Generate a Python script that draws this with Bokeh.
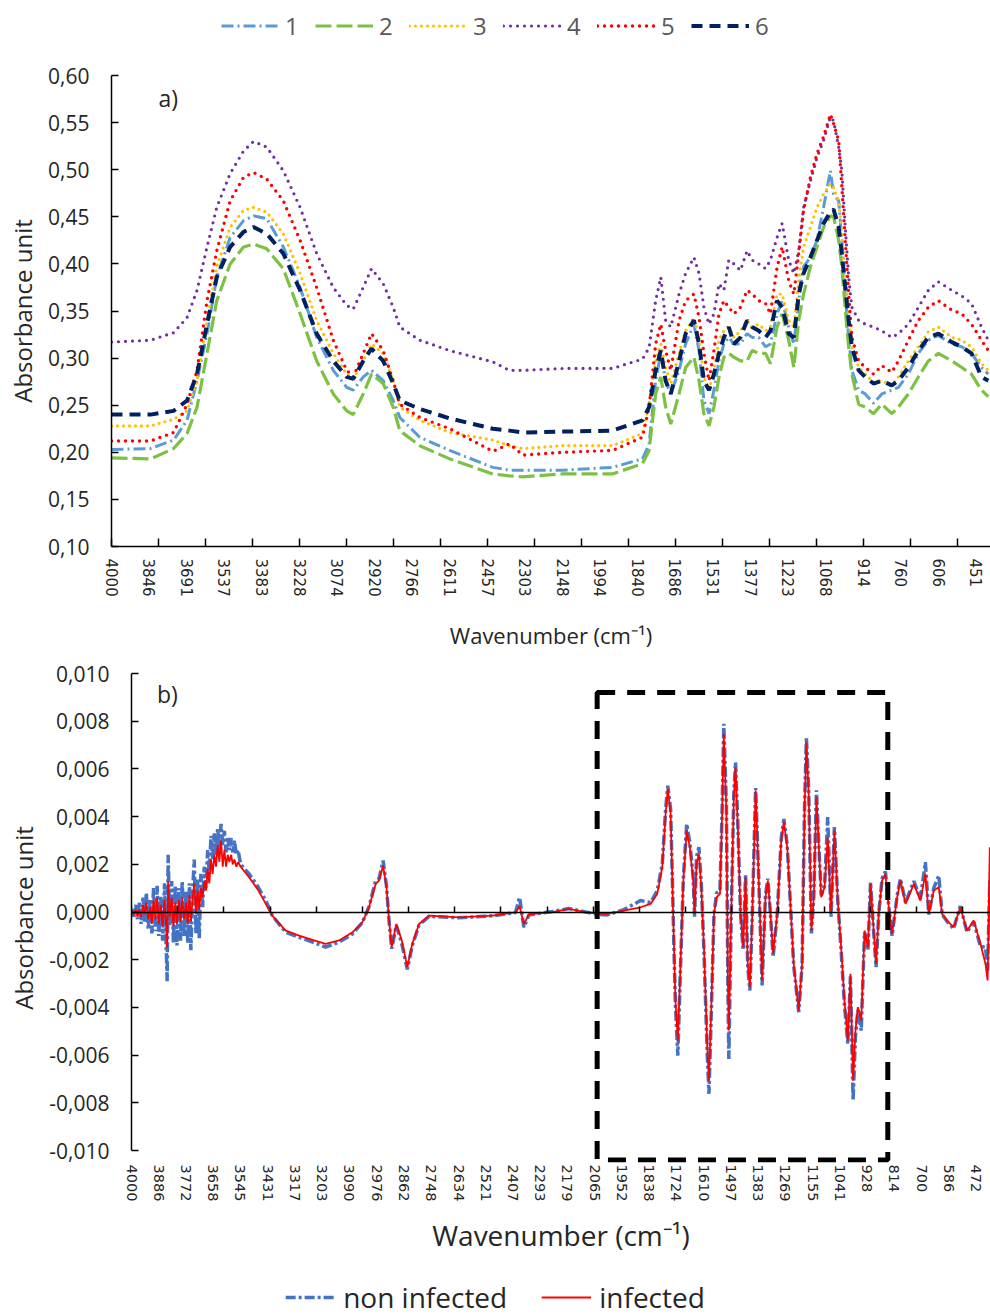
from bokeh.plotting import figure
from bokeh.models import (Range1d, FixedTicker, CustomJSTickFormatter, Legend, LegendItem,
                          LinearAxis, Label, BoxAnnotation)
from bokeh.embed import file_html
from bokeh.resources import INLINE

FONT = "Open Sans"
TICKFONT = "DejaVu Sans"
TXT = "#262626"

# ---------------- panel a data ----------------
wn_a = [4000, 3840, 3745, 3690, 3649, 3608, 3568, 3513, 3458, 3417, 3363, 3295, 3226, 3158, 3090,
        3035, 3008, 2967, 2933, 2885, 2844, 2817, 2735, 2612, 2435, 2367, 2312, 2149, 1944,
        1821, 1794, 1767, 1746, 1726, 1705, 1671, 1644, 1610, 1589, 1569, 1548, 1528, 1507,
        1487, 1467, 1446, 1419, 1392, 1371, 1344, 1316, 1296, 1269, 1248, 1221, 1200, 1180,
        1160, 1132, 1105, 1078, 1050, 1037, 1016, 1003, 989, 975, 962, 934, 907, 873, 839,
        798, 771, 730, 689, 648, 607, 552, 511, 471, 430, 402]

s1 = [0.203, 0.204, 0.213, 0.234, 0.276, 0.326, 0.386, 0.428, 0.446, 0.451, 0.448, 0.418, 0.375,
      0.322, 0.287, 0.269, 0.266, 0.280, 0.287, 0.276, 0.255, 0.237, 0.216, 0.202, 0.184,
      0.181, 0.181, 0.181, 0.184,
      0.193, 0.209, 0.276, 0.305, 0.276, 0.262, 0.287, 0.315, 0.336, 0.308, 0.255, 0.241, 0.266,
      0.297, 0.315, 0.322, 0.315, 0.315, 0.326, 0.322, 0.322, 0.312, 0.315, 0.347, 0.361, 0.333,
      0.315, 0.361, 0.397, 0.407, 0.425, 0.460, 0.499, 0.474, 0.467, 0.425, 0.368, 0.322, 0.287,
      0.266, 0.262, 0.252, 0.262, 0.266, 0.269, 0.283, 0.305, 0.319, 0.324, 0.315, 0.312, 0.305,
      0.290, 0.283]
s2 = [0.194, 0.193, 0.204, 0.220, 0.248, 0.305, 0.361, 0.400, 0.418, 0.421, 0.416, 0.395, 0.347,
      0.297, 0.262, 0.244, 0.240, 0.262, 0.283, 0.273, 0.248, 0.223, 0.207, 0.193, 0.177,
      0.175, 0.174, 0.177, 0.177,
      0.188, 0.202, 0.262, 0.280, 0.248, 0.230, 0.262, 0.290, 0.301, 0.276, 0.241, 0.228, 0.248,
      0.280, 0.301, 0.305, 0.301, 0.297, 0.297, 0.308, 0.305, 0.305, 0.294, 0.333, 0.347, 0.319,
      0.290, 0.340, 0.368, 0.397, 0.418, 0.439, 0.451, 0.450, 0.425, 0.397, 0.351, 0.312, 0.283,
      0.251, 0.248, 0.241, 0.251, 0.241, 0.248, 0.262, 0.280, 0.297, 0.305, 0.297, 0.290, 0.283,
      0.266, 0.259]
s3 = [0.228, 0.228, 0.235, 0.244, 0.276, 0.340, 0.397, 0.439, 0.457, 0.460, 0.455, 0.432, 0.390,
      0.340, 0.305, 0.283, 0.278, 0.297, 0.315, 0.305, 0.276, 0.248, 0.234, 0.221, 0.213,
      0.207, 0.204, 0.207, 0.207,
      0.220, 0.251, 0.297, 0.315, 0.290, 0.273, 0.305, 0.329, 0.343, 0.322, 0.280, 0.266, 0.287,
      0.319, 0.329, 0.333, 0.322, 0.329, 0.340, 0.333, 0.336, 0.329, 0.333, 0.368, 0.368, 0.340,
      0.333, 0.382, 0.418, 0.439, 0.460, 0.474, 0.485, 0.481, 0.467, 0.432, 0.390, 0.347, 0.312,
      0.290, 0.283, 0.274, 0.276, 0.271, 0.280, 0.297, 0.312, 0.328, 0.333, 0.322, 0.319, 0.312,
      0.294, 0.287]
s4 = [0.317, 0.319, 0.327, 0.343, 0.372, 0.418, 0.460, 0.496, 0.520, 0.530, 0.524, 0.499, 0.460,
      0.411, 0.375, 0.356, 0.352, 0.375, 0.395, 0.379, 0.354, 0.333, 0.319, 0.308, 0.296,
      0.287, 0.287, 0.289, 0.289,
      0.299, 0.311, 0.361, 0.386, 0.340, 0.333, 0.368, 0.390, 0.407, 0.390, 0.354, 0.336, 0.347,
      0.379, 0.372, 0.404, 0.400, 0.393, 0.414, 0.404, 0.400, 0.395, 0.404, 0.428, 0.443, 0.404,
      0.390, 0.414, 0.460, 0.488, 0.513, 0.531, 0.556, 0.552, 0.524, 0.499, 0.439, 0.386, 0.354,
      0.340, 0.336, 0.333, 0.329, 0.322, 0.326, 0.336, 0.354, 0.372, 0.381, 0.372, 0.366, 0.358,
      0.333, 0.319]
s5 = [0.212, 0.212, 0.221, 0.251, 0.287, 0.361, 0.414, 0.467, 0.492, 0.497, 0.490, 0.467, 0.425,
      0.375, 0.319, 0.287, 0.280, 0.305, 0.326, 0.308, 0.276, 0.251, 0.237, 0.225, 0.201,
      0.209, 0.197, 0.200, 0.202,
      0.216, 0.248, 0.315, 0.336, 0.308, 0.287, 0.340, 0.361, 0.368, 0.343, 0.305, 0.276, 0.308,
      0.347, 0.361, 0.354, 0.347, 0.354, 0.372, 0.368, 0.361, 0.358, 0.347, 0.396, 0.418, 0.382,
      0.368, 0.411, 0.457, 0.492, 0.517, 0.535, 0.559, 0.549, 0.531, 0.482, 0.425, 0.368, 0.322,
      0.297, 0.290, 0.283, 0.292, 0.285, 0.297, 0.319, 0.340, 0.354, 0.361, 0.351, 0.347, 0.336,
      0.319, 0.308]
s6 = [0.240, 0.240, 0.244, 0.255, 0.283, 0.336, 0.386, 0.418, 0.434, 0.439, 0.432, 0.411, 0.372,
      0.326, 0.297, 0.280, 0.278, 0.297, 0.310, 0.297, 0.273, 0.255, 0.246, 0.236, 0.225,
      0.223, 0.221, 0.222, 0.223,
      0.234, 0.248, 0.287, 0.308, 0.276, 0.262, 0.297, 0.326, 0.340, 0.315, 0.276, 0.266, 0.283,
      0.305, 0.322, 0.333, 0.315, 0.322, 0.340, 0.333, 0.329, 0.322, 0.329, 0.361, 0.354, 0.326,
      0.322, 0.368, 0.390, 0.407, 0.425, 0.443, 0.455, 0.458, 0.439, 0.411, 0.375, 0.340, 0.312,
      0.287, 0.280, 0.273, 0.276, 0.271, 0.276, 0.290, 0.308, 0.322, 0.326, 0.317, 0.312, 0.305,
      0.280, 0.276]

series_names = ["1", "2", "3", "4", "5", "6"]

# ---------------- panel b data ----------------
wn_b = [4000, 3990, 3982, 3975, 3968, 3960, 3952, 3945, 3938, 3930, 3922, 3915, 3908, 3900, 3893,
        3886, 3878, 3870, 3862, 3855, 3851, 3847, 3840, 3832, 3825, 3817, 3810, 3802, 3795, 3788,
        3780, 3772, 3765, 3758, 3752, 3745, 3738, 3731, 3724, 3717, 3710, 3703, 3696, 3689, 3682,
        3675, 3668, 3661, 3654, 3647, 3640, 3633, 3626, 3619, 3612, 3605, 3598, 3591, 3584, 3577,
        3570, 3562, 3555, 3544, 3509,
        3474, 3439, 3412,
        3356, 3300, 3244, 3189, 3133, 3077, 3036, 3008, 2980, 2966, 2949, 2935, 2924, 2913, 2894,
        2871, 2848, 2827, 2799, 2757, 2632, 2493, 2396, 2379, 2361, 2340, 2242, 2173, 2103, 2048,
        2013, 1943, 1874, 1832, 1804, 1783, 1769, 1760, 1748, 1741, 1734, 1728, 1718, 1709, 1695,
        1681, 1668, 1654, 1648, 1640, 1630, 1620, 1609, 1595, 1588, 1579, 1567, 1556, 1542, 1533,
        1526, 1515, 1509, 1505, 1495, 1484, 1477, 1467, 1456, 1445, 1435, 1426, 1417, 1407, 1393,
        1380, 1366, 1352, 1342, 1331, 1320, 1303, 1286, 1275, 1261, 1247, 1234, 1213, 1199, 1189,
        1181, 1171, 1160, 1150, 1139, 1129, 1119, 1105, 1092, 1078, 1064, 1050, 1036, 1022, 1008,
        997, 986, 976, 966, 952, 938, 924, 913, 900, 890, 879, 865, 851, 837, 823, 802, 788, 767,
        732, 705, 684, 670, 649, 628, 614, 593, 566, 538, 510, 482, 454, 433, 424, 415, 410]

non_infected = [0.0001, -0.0002, 0.0003, -0.0003, 0.0004, -0.0005, 0.0006, -0.0004, 0.0008, -0.0007,
                0.0005, -0.0009, 0.0010, -0.0008, 0.0011, -0.0010, 0.0007, -0.0012, 0.0012, -0.0015,
                -0.0029, 0.0024, -0.0006, 0.0013, -0.0013, 0.0011, -0.0014, 0.0010, -0.0012, 0.0013,
                -0.0010, 0.0009, -0.0013, 0.0012, -0.0016, 0.0008, 0.0022, -0.0009, 0.0014, -0.0011,
                0.0016, 0.0002, 0.0019, 0.0010, 0.0026, 0.0016, 0.0032, 0.0022, 0.0033, 0.0024,
                0.0035, 0.0026, 0.0037, 0.0028, 0.0034, 0.0025, 0.0031, 0.0026, 0.0031, 0.0025,
                0.0030, 0.0024, 0.0026, 0.0020, 0.0016,
                0.0011, 0.00048, -0.00015, -0.00085, -0.00106, -0.00126, -0.00147, -0.00126, -0.00092,
                -0.00045, 0.00022, 0.00132, 0.0014, 0.00216, 0.0011, -0.0004, -0.00154, -0.00055,
                -0.00133, -0.0024, -0.0014, -0.00055, -0.00018, -0.00024, -0.00016, -0.00002, 0.00062,
                -0.00064, -0.00012, 0.00002, 0.00015, 0.0, -0.0001, -0.00012, 0.0001, 0.00048, 0.0004,
                0.0009, 0.002, 0.0043, 0.0053, 0.0043, 0.0014, -0.0016, -0.0039, -0.00602, -0.003,
                0.0014, 0.0037, 0.0029, 0.0015, -0.0002, 0.0023, 0.00272, 0.0012, -0.0016, -0.006,
                -0.00762, -0.0045, -0.0001, 0.0008, 0.0009, 0.0043, 0.00789, 0.0044, -0.003, -0.00616,
                -0.0001, 0.005, 0.00628, 0.0036, -0.0001, -0.0016, 0.0016, -0.0023, -0.00329, -0.0001,
                0.0052, 0.0014, -0.00308, 0.0007, 0.0014, -0.0001, -0.00189, -0.0001, 0.0031, 0.0039,
                0.0028, 0.0002, -0.00225, -0.0042, -0.00225, 0.0043, 0.00733, 0.005, -0.0009, 0.0007,
                0.0051, 0.0028, 0.0007, 0.0011, 0.00398, -0.0002, 0.00356, 0.0005, -0.0016, -0.0039,
                -0.00553, -0.0027, -0.0079, -0.0052, -0.0041, -0.00497, -0.00085, -0.0016, 0.00125,
                -0.00085, -0.00231, -0.0001, 0.0014, 0.0017, 0.00025, -0.001, 0.0007, 0.0014, 0.0004,
                0.0013, 0.00055, 0.00209, -0.0001, 0.001, 0.00153, -0.0001, -0.0004, -0.0007, 0.00025,
                -0.00085, -0.0004, -0.00145, -0.00147, -0.00245, 0.00132, -0.0012]
infected = [0.0, -0.0001, 0.0001, -0.0002, 0.0001, -0.0002, 0.0003, -0.0001, 0.0004, -0.0003,
            0.0002, -0.0005, 0.0005, -0.0003, 0.0006, -0.0005, 0.0003, -0.0006, 0.0005, -0.0007,
            -0.0015, 0.0013, -0.0002, 0.0006, -0.0006, 0.0004, -0.0005, 0.0005, -0.0004, 0.0006,
            -0.0003, 0.0004, -0.0005, 0.0007, -0.0004, 0.0005, 0.0012, 0.0, 0.0009, 0.0001,
            0.0010, 0.0006, 0.0013, 0.0009, 0.0018, 0.0012, 0.0022, 0.0016, 0.0024, 0.0019,
            0.0028, 0.0021, 0.0030, 0.0019, 0.0026, 0.0019, 0.0024, 0.0021, 0.0024, 0.0020,
            0.0022, 0.0019, 0.0021, 0.0019, 0.00146,
            0.00097, 0.00034, -0.00015, -0.00078, -0.00099, -0.00117, -0.00133, -0.00119, -0.00085,
            -0.00043, 0.0002, 0.00118, 0.00132, 0.00195, 0.00104, -0.00036, -0.00147, -0.0005,
            -0.00119, -0.00231, -0.00133, -0.0005, -0.00015, -0.00022, -0.00015, -0.00001, 0.00023,
            -0.0005, -0.0001, 0.0, 0.00013, 0.0, -0.00008, -0.00008, 0.00006, 0.0002, 0.00034,
            0.00076, 0.00188, 0.00412, 0.00517, 0.00412, 0.00132, -0.00147, -0.00371, -0.00539,
            -0.00287, 0.00132, 0.00342, 0.00272, 0.00132, -0.00008, 0.00202, 0.00244, 0.00104,
            -0.00147, -0.00567, -0.00707, -0.00427, -0.00008, 0.00062, 0.00076, 0.00412, 0.00747,
            0.00412, -0.00287, -0.00497, -0.00008, 0.00482, 0.00607, 0.00342, -0.00008, -0.00147,
            0.00146, -0.00217, -0.00315, -0.00008, 0.0051, 0.00132, -0.00287, 0.00062, 0.00132,
            -0.00008, -0.00175, -0.00008, 0.003, 0.00377, 0.00272, 0.0002, -0.00217, -0.00413,
            -0.00217, 0.00412, 0.00712, 0.00482, -0.00078, 0.00062, 0.00482, 0.00272, 0.00062,
            0.00104, 0.00314, -0.00008, 0.00342, 0.00048, -0.00147, -0.00371, -0.00539, -0.00259,
            -0.00707, -0.00497, -0.00399, -0.00455, -0.00078, -0.00147, 0.00118, -0.00078,
            -0.00217, -0.00008, 0.00132, 0.0016, 0.0002, -0.00092, 0.00062, 0.00132, 0.00034,
            0.00118, 0.00048, 0.0016, -0.00008, 0.0009, 0.00104, -0.00008, -0.00036, -0.00064,
            0.0002, -0.00078, -0.00036, -0.00133, -0.00217, -0.00287, 0.00272, -0.001]

# ---------------- axis labels / ticks ----------------
xlabels_a = [4000, 3846, 3691, 3537, 3383, 3228, 3074, 2920, 2766, 2611, 2457, 2303, 2148, 1994,
             1840, 1686, 1531, 1377, 1223, 1068, 914, 760, 606, 451]
xlabels_b = [4000, 3886, 3772, 3658, 3545, 3431, 3317, 3203, 3090, 2976, 2862, 2748, 2634, 2521,
             2407, 2293, 2179, 2065, 1952, 1838, 1724, 1610, 1497, 1383, 1269, 1155, 1041, 928,
             814, 700, 586, 472]
xtick_marks = [4000, 3807, 3614, 3421, 3228, 3036, 2843, 2650, 2457, 2264, 2071, 1878, 1685, 1492,
               1299, 1107, 914, 721, 528]
yticks_a = [0.10, 0.15, 0.20, 0.25, 0.30, 0.35, 0.40, 0.45, 0.50, 0.55, 0.60]
yticks_b = [-0.010, -0.008, -0.006, -0.004, -0.002, 0.0, 0.002, 0.004, 0.006, 0.008, 0.010]

styles_a = [
    ("#5B9BD5", "12 4 2 4", 3.0, "butt"),
    ("#7CC142", "16 5", 3.2, "butt"),
    ("#FFC000", "0 6", 3.2, "round"),
    ("#7030A0", "0 7", 3.2, "round"),
    ("#FF0000", "0 7", 3.4, "round"),
    ("#002060", "11 7", 4.0, "butt"),
]
style_noninf = ("#4472C4", "10 3 3 3", 3.5)
style_inf = ("#FF0000", 1.8)
series_a = [s1, s2, s3, s4, s5, s6]


def legend_figure(h):
    # a strip that only carries a legend; its (0..1) ranges keep the series off-screen
    f = figure(width=990, height=h, x_range=Range1d(0, 1), y_range=Range1d(0, 1),
               output_backend="svg", toolbar_location=None, x_axis_type=None, y_axis_type=None,
               min_border=0)
    f.outline_line_color = None
    return f


# ================= legend a =================
lfa = legend_figure(50)
items_a = []
for name, vals, (col, dash, lw, cap) in zip(series_names, series_a, styles_a):
    r = lfa.line(wn_a, vals, line_color=col, line_dash=dash, line_width=lw, line_cap=cap)
    items_a.append(LegendItem(label=name, renderers=[r]))
lfa.add_layout(Legend(items=items_a, orientation="horizontal", location="center",
                      glyph_width=58, glyph_height=20, label_standoff=6, label_width=14,
                      spacing=16, padding=0, margin=0, border_line_color=None,
                      background_fill_alpha=0, label_text_font=FONT,
                      label_text_font_size="24px", label_text_color="#595959"))

# ================= panel a =================
pa = figure(width=990, height=608, x_range=Range1d(4000, 393), y_range=Range1d(0.10, 0.60),
            output_backend="svg", toolbar_location=None, min_border_left=111,
            min_border_right=0, min_border_top=25, min_border_bottom=112)
pa.outline_line_color = None
pa.grid.visible = False

xa = pa.xaxis[0]
xa.ticker = FixedTicker(ticks=xlabels_a, minor_ticks=xtick_marks)
xa.formatter = CustomJSTickFormatter(code="return tick.toFixed(0)")
xa.major_tick_in = 0
xa.major_tick_out = 0
xa.minor_tick_in = 8
xa.minor_tick_out = 0
xa.minor_tick_line_color = "black"
xa.minor_tick_line_width = 1.5
xa.axis_line_color = "black"
xa.axis_line_width = 1.5
xa.major_label_orientation = "vertical"
xa.major_label_text_font = TICKFONT
xa.major_label_text_font_size = "15px"
xa.major_label_text_color = TXT
xa.major_label_standoff = 12
xa.axis_label = "Wavenumber (cm⁻¹)"
xa.axis_label_text_font = FONT
xa.axis_label_text_font_size = "22px"
xa.axis_label_text_font_style = "normal"
xa.axis_label_text_color = TXT
xa.axis_label_standoff = 20

ya = pa.yaxis[0]
ya.ticker = FixedTicker(ticks=yticks_a)
ya.formatter = CustomJSTickFormatter(code="return tick.toFixed(2).replace('.', ',')")
ya.major_tick_in = 7
ya.major_tick_out = 0
ya.major_tick_line_width = 1.5
ya.minor_tick_line_color = None
ya.axis_line_width = 1.5
ya.major_label_text_font = FONT
ya.major_label_text_font_size = "21px"
ya.major_label_text_color = TXT
ya.major_label_standoff = 22
ya.axis_label = "Absorbance unit"
ya.axis_label_text_font = FONT
ya.axis_label_text_font_size = "24px"
ya.axis_label_text_font_style = "normal"
ya.axis_label_text_color = TXT
ya.axis_label_standoff = 6

for vals, (col, dash, lw, cap) in zip(series_a, styles_a):
    pa.line(wn_a, vals, line_color=col, line_dash=dash, line_width=lw, line_cap=cap)

pa.add_layout(Label(x=3807, y=0.5756, text="a)", text_font=FONT, text_font_size="23px",
                    text_baseline="middle", text_color=TXT))

# ================= panel b =================
pb = figure(width=990, height=620, x_range=Range1d(4000, 412), y_range=Range1d(-0.0105, 0.010),
            output_backend="svg", toolbar_location=None, min_border_left=131,
            min_border_right=0, min_border_top=15, min_border_bottom=116)
pb.outline_line_color = None
pb.grid.visible = False

xb = pb.xaxis[0]
xb.ticker = FixedTicker(ticks=xlabels_b)
xb.formatter = CustomJSTickFormatter(code="return tick.toFixed(0)")
xb.major_tick_in = 0
xb.major_tick_out = 0
xb.minor_tick_line_color = None
xb.axis_line_color = None
xb.major_label_orientation = "vertical"
xb.major_label_text_font = TICKFONT
xb.major_label_text_font_size = "14.5px"
xb.major_label_text_color = TXT
xb.major_label_standoff = 2
xb.axis_label = "Wavenumber (cm⁻¹)"
xb.axis_label_text_font = FONT
xb.axis_label_text_font_size = "28px"
xb.axis_label_text_font_style = "normal"
xb.axis_label_text_color = TXT
xb.axis_label_standoff = 12

zero_axis = LinearAxis(fixed_location=0, ticker=FixedTicker(ticks=xtick_marks),
                       major_tick_in=6, major_tick_out=0, major_tick_line_width=1.5,
                       minor_tick_line_color=None, axis_line_color="black", axis_line_width=1.5,
                       major_label_text_color=None, major_label_text_font_size="1px")
pb.add_layout(zero_axis, "below")

yb = pb.yaxis[0]
yb.ticker = FixedTicker(ticks=yticks_b)
yb.formatter = CustomJSTickFormatter(code="return tick.toFixed(3).replace('.', ',')")
yb.bounds = (-0.010, 0.010)
yb.major_tick_in = 7
yb.major_tick_out = 0
yb.major_tick_line_width = 1.5
yb.minor_tick_line_color = None
yb.axis_line_width = 1.5
yb.major_label_text_font = FONT
yb.major_label_text_font_size = "21px"
yb.major_label_text_color = TXT
yb.major_label_standoff = 22
yb.axis_label = "Absorbance unit"
yb.axis_label_text_font = FONT
yb.axis_label_text_font_size = "24px"
yb.axis_label_text_font_style = "normal"
yb.axis_label_text_color = TXT
yb.axis_label_standoff = 6

pb.line(wn_b, non_infected, line_color=style_noninf[0], line_dash=style_noninf[1],
        line_width=style_noninf[2])
pb.line(wn_b, infected, line_color=style_inf[0], line_width=style_inf[1])

pb.add_layout(BoxAnnotation(left=2055, right=841, top=0.0092, bottom=-0.0104,
                            fill_color=None, fill_alpha=0, line_color="black", line_alpha=1.0,
                            line_width=5, line_dash="18 12"))
pb.add_layout(Label(x=3894, y=0.00916, text="b)", text_font=FONT, text_font_size="23px",
                    text_baseline="middle", text_color=TXT))

# ================= legend b =================
lfb = legend_figure(38)
rl1 = lfb.line(wn_b, non_infected, line_color=style_noninf[0], line_dash=style_noninf[1],
               line_width=style_noninf[2])
rl2 = lfb.line(wn_b, infected, line_color=style_inf[0], line_width=style_inf[1])
lfb.add_layout(Legend(items=[LegendItem(label="non infected", renderers=[rl1]),
                             LegendItem(label="infected", renderers=[rl2])],
                      orientation="horizontal", location="center", glyph_width=50,
                      glyph_height=20, label_standoff=8, spacing=34, padding=0, margin=0,
                      border_line_color=None, background_fill_alpha=0, label_text_font=FONT,
                      label_text_font_size="28px", label_text_color=TXT))

open("out.html", "w").write(file_html([lfa, pa, pb, lfb], INLINE))
